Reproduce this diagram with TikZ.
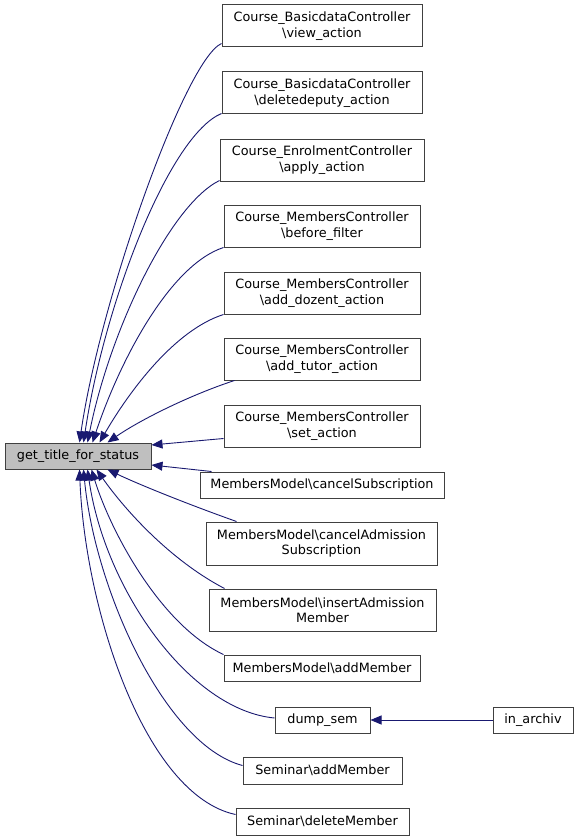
\documentclass[tikz,border=0pt]{standalone}
\usepackage{fontspec}
\setmainfont{DejaVu Sans}
\usetikzlibrary{arrows.meta,calc}
\definecolor{edgecol}{RGB}{25,25,112}
\definecolor{boxline}{RGB}{64,64,64}
\definecolor{mainfill}{RGB}{191,191,191}
\tikzset{
  box/.style={draw=boxline,line width=1pt,fill=white,inner sep=0pt,align=center,
    font=\fontsize{12.8}{15.5}\selectfont},
  mainbox/.style={box,fill=mainfill},
  edge/.style={draw=edgecol,line width=0.9pt,-{Triangle[length=11pt,width=9pt]}}
}
\begin{document}
\begin{tikzpicture}[x=1pt,y=-1pt]
\useasboundingbox (0,0) rectangle (579,840);
\node[mainbox,minimum width=146pt,minimum height=26pt] (gt) at (78,456) {get\_title\_for\_status};
\node[box,minimum width=200pt,minimum height=42pt] (view) at (322,26) {Course\_BasicdataController\\\textbackslash view\_action};
\node[box,minimum width=200pt,minimum height=42pt] (deldep) at (322,93) {Course\_BasicdataController\\\textbackslash deletedeputy\_action};
\node[box,minimum width=204pt,minimum height=42pt] (apply) at (322,160) {Course\_EnrolmentController\\\textbackslash apply\_action};
\node[box,minimum width=196pt,minimum height=42pt] (before) at (322,226) {Course\_MembersController\\\textbackslash before\_filter};
\node[box,minimum width=196pt,minimum height=42pt] (dozent) at (322,293) {Course\_MembersController\\\textbackslash add\_dozent\_action};
\node[box,minimum width=196pt,minimum height=42pt] (tutor) at (322,359) {Course\_MembersController\\\textbackslash add\_tutor\_action};
\node[box,minimum width=196pt,minimum height=42pt] (set) at (322,426) {Course\_MembersController\\\textbackslash set\_action};
\node[box,minimum width=244pt,minimum height=26pt] (cancelSub) at (322,485) {MembersModel\textbackslash cancelSubscription};
\node[box,minimum width=231pt,minimum height=43pt] (cancelAdm) at (321.5,543.5) {MembersModel\textbackslash cancelAdmission\\Subscription};
\node[box,minimum width=227pt,minimum height=42pt] (insertAdm) at (322.5,610) {MembersModel\textbackslash insertAdmission\\Member};
\node[box,minimum width=196pt,minimum height=26pt] (addMember) at (322,668) {MembersModel\textbackslash addMember};
\node[box,minimum width=95pt,minimum height=26pt] (dump) at (322.5,720) {dump\_sem};
\node[box,minimum width=80pt,minimum height=26pt] (archiv) at (533,720) {in\_archiv};
\node[box,minimum width=159pt,minimum height=27pt] (semAdd) at (322.5,770.5) {Seminar\textbackslash addMember};
\node[box,minimum width=173pt,minimum height=27pt] (semDel) at (322.5,821.5) {Seminar\textbackslash deleteMember};

\draw[edge] ($(view.south west)+(0,-4)$) .. controls (185,60) and (100,300) .. ($(gt.north west)+(75,0)$);
\draw[edge] ($(deldep.south west)+(0,-1)$) .. controls (170,135) and (105,300) .. ($(gt.north west)+(79,0)$);
\draw[edge] ($(apply.south west)+(0,-1)$) .. controls (170,205) and (110,330) .. ($(gt.north west)+(83,0)$);
\draw[edge] (before.south west) .. controls (170,265) and (120,360) .. ($(gt.north west)+(88,0)$);
\draw[edge] (dozent.south west) .. controls (175,330) and (130,390) .. ($(gt.north west)+(95,0)$);
\draw[edge] ($(tutor.south west)+(11,0)$) .. controls (190,395) and (140,420) .. ($(gt.north west)+(103,0)$);
\draw[edge] ($(set.south west)+(0,-9)$) -- ($(gt.east)+(0,-11)$);
\draw[edge] ($(cancelSub.north west)+(12,0)$) -- ($(gt.east)+(0,9)$);
\draw[edge] ($(cancelAdm.north west)+(31,0)$) .. controls (190,505) and (140,485) .. ($(gt.south west)+(103,0)$);
\draw[edge] ($(insertAdm.north west)+(16,0)$) .. controls (170,560) and (125,510) .. ($(gt.south west)+(92,0)$);
\draw[edge] (addMember.north west) .. controls (160,625) and (110,530) .. ($(gt.south west)+(87,0)$);
\draw[edge] ($(dump.west)+(0,-2)$) .. controls (190,710) and (105,590) .. ($(gt.south west)+(83,0)$);
\draw[edge] ($(semAdd.west)+(0,-5)$) .. controls (165,745) and (95,590) .. ($(gt.south west)+(79,0)$);
\draw[edge] ($(semDel.west)+(0,-7)$) .. controls (145,795) and (85,610) .. ($(gt.south west)+(75,0)$);
\draw[edge] (archiv.west) -- (dump.east);
\end{tikzpicture}
\end{document}
